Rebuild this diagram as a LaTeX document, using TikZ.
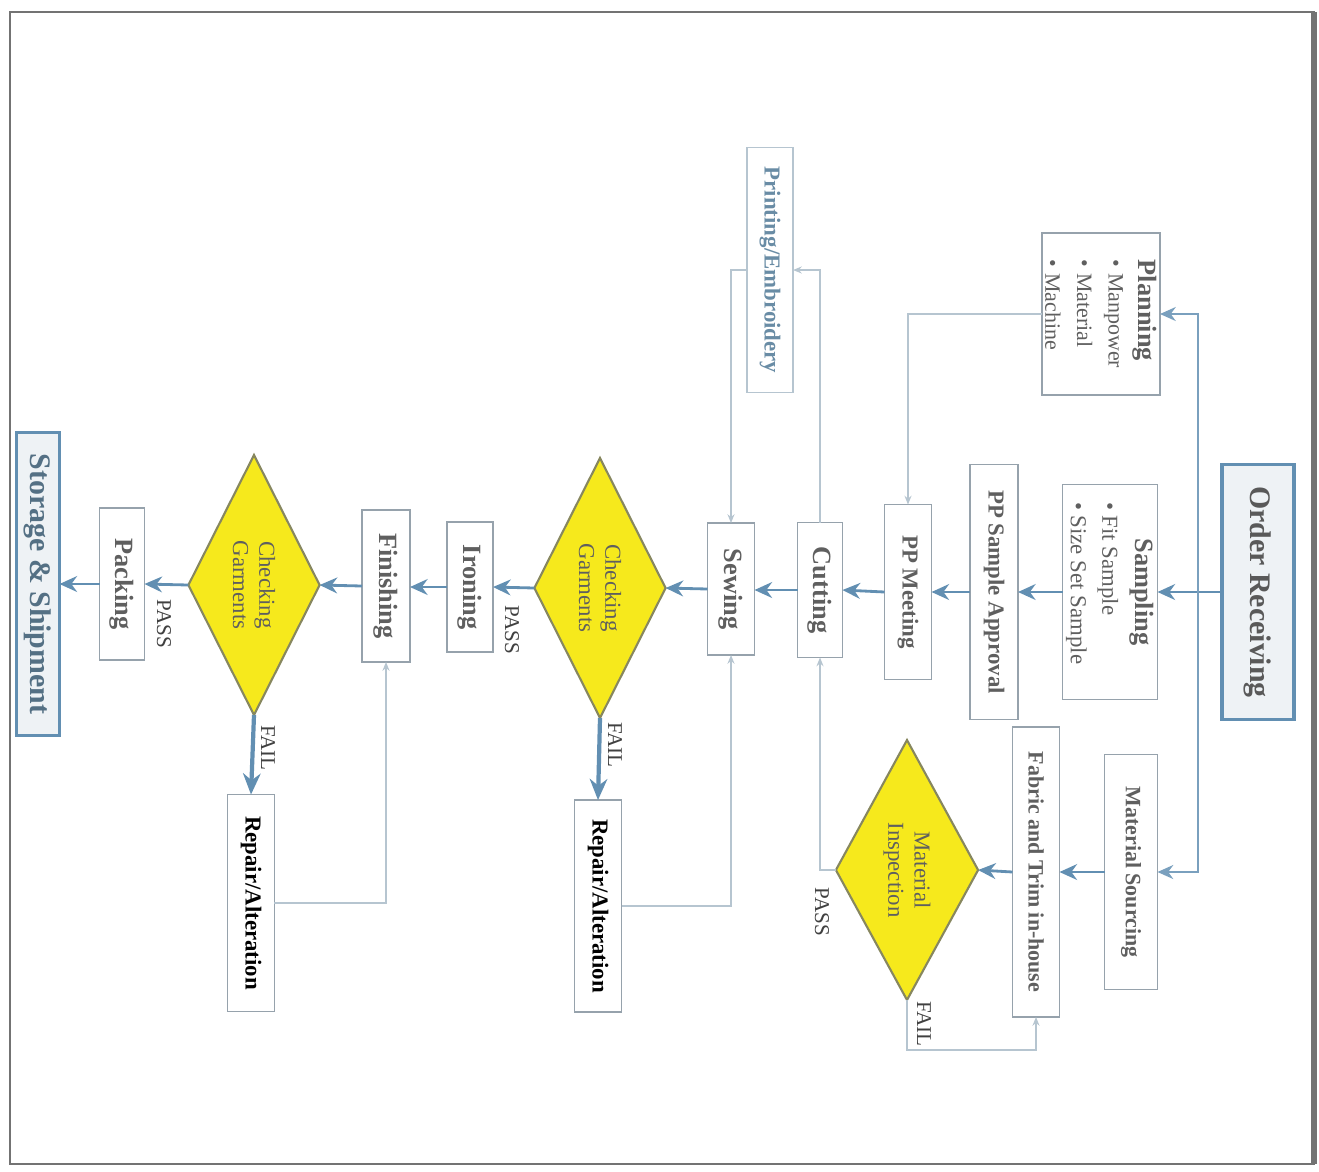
\documentclass[tikz,border=0pt]{standalone}
\usepackage{fontspec}
\setmainfont{Liberation Serif}
\usetikzlibrary{arrows.meta,shapes.geometric,calc}
\definecolor{arrblue}{RGB}{98,143,178}
\definecolor{fbcol}{RGB}{182,197,208}
\definecolor{boxln}{RGB}{150,162,172}
\definecolor{txtgray}{RGB}{95,95,95}
\definecolor{dyellow}{RGB}{246,233,28}
\definecolor{dline}{RGB}{135,135,95}
\definecolor{pebl}{RGB}{105,140,165}
\definecolor{bigfill}{RGB}{238,242,245}
\begin{document}
\begin{tikzpicture}[x=0.02cm,y=-0.02cm,
  box/.style={draw=boxln, line width=0.8pt, fill=white, rotate=-90, inner sep=0pt, outer sep=0pt,
    font=\bfseries\fontsize{15}{18}\selectfont, text=txtgray, align=center},
  sbox/.style={box, font=\bfseries\fontsize{13}{15}\selectfont},
  bigbox/.style={box, draw=arrblue, line width=2pt, fill=bigfill, font=\bfseries\fontsize{17}{20}\selectfont, text=black!65},
  dia/.style={diamond, draw=dline, line width=1.2pt, fill=dyellow, rotate=-90, inner sep=0pt, outer sep=0pt,
    font=\fontsize{13}{15}\selectfont, text=txtgray, align=center},
  lbl/.style={rotate=-90, inner sep=1pt, font=\fontsize{12}{14}\selectfont, text=black!75},
  flow/.style={draw=arrblue, line width=1.6pt, -{Stealth[length=10pt,width=9pt]}},
  failflow/.style={draw=arrblue, line width=2.4pt, -{Stealth[length=12pt,width=10pt]}},
  fbline/.style={draw=fbcol, line width=0.8pt},
  fbarrow/.style={fbline, -{Stealth[length=5pt,width=4pt]}},
  branchline/.style={draw=arrblue!85, line width=1.1pt, -{Stealth[length=9pt,width=8pt]}},
  bul/.style={}
]
\useasboundingbox (0,0) rectangle (1319,1171);
% frame
\draw[black!55, line width=1.4pt] (10,12) rectangle (1314,1164);
\draw[black!55, line width=3pt] (1314,12) -- (1314,1164);

% nodes
\node[bigbox, minimum width=5.10cm, minimum height=1.44cm] (OR) at (1258,592) {Order Receiving};
\node[box, minimum width=3.24cm, minimum height=2.36cm, align=left] (PL) at (1101,314)
  {Planning\\[-1pt]{\mdseries\fontsize{12.5}{14}\selectfont • Manpower}\\{\mdseries\fontsize{12.5}{14}\selectfont • Material}\\{\mdseries\fontsize{12.5}{14}\selectfont • Machine}};
\node[box, minimum width=4.30cm, minimum height=1.90cm] (SA) at (1110,592)
  {Sampling\\[1pt]{\mdseries\fontsize{13}{14.5}\selectfont\makebox[3.6cm][l]{• Fit Sample}}\\{\mdseries\fontsize{13}{14.5}\selectfont\makebox[3.6cm][l]{• Size Set Sample}}};
\node[sbox, font=\bfseries\fontsize{12.5}{15}\selectfont, minimum width=4.70cm, minimum height=1.06cm] (MS) at (1131,872) {Material Sourcing};
\node[sbox, minimum width=5.10cm, minimum height=0.96cm] (PPA) at (994,592) {PP Sample Approval};
\node[sbox, font=\bfseries\fontsize{12.5}{15}\selectfont, minimum width=5.80cm, minimum height=0.94cm] (FT) at (1036,872) {Fabric and Trim in-house};
\node[dia, minimum width=5.20cm, minimum height=2.54cm] (MI) at (907,870) {Material\\Inspection};
\node[sbox, minimum width=3.50cm, minimum height=0.94cm] (PPM) at (908,592) {PP Meeting};
\node[sbox, text=pebl, draw=fbcol, minimum width=4.90cm, minimum height=0.92cm] (PE) at (770,270) {Printing/Embroidery};
\node[box, minimum width=2.70cm, minimum height=0.90cm] (CU) at (820,590) {Cutting};
\node[box, minimum width=2.64cm, minimum height=0.94cm] (SE) at (731,589) {Sewing};
\node[dia, minimum width=5.20cm, minimum height=2.60cm] (CG1) at (600,588) {Checking\\Garments};
\node[sbox, text=black, minimum width=4.24cm, minimum height=0.94cm] (RA1) at (598,906) {Repair/Alteration};
\node[box, minimum width=2.60cm, minimum height=0.92cm] (IR) at (470,587) {Ironing};
\node[box, minimum width=3.04cm, minimum height=0.96cm] (FI) at (386,586) {Finishing};
\node[dia, minimum width=5.20cm, minimum height=2.56cm] (CG2) at (254,585) {Checking\\Garments};
\node[sbox, text=black, minimum width=4.34cm, minimum height=0.94cm] (RA2) at (251,903) {Repair/Alteration};
\node[box, minimum width=3.04cm, minimum height=0.90cm] (PA) at (122,584) {Packing};
\node[bigbox, text=pebl!80!black, minimum width=6.06cm, minimum height=0.86cm] (SS) at (38,584) {Storage \& Shipment};

% main flow
\draw[flow] (OR.south) -- (OR.south -| SA.north);
\draw[flow] (SA.south) -- (SA.south -| PPA.north);
\draw[flow] (PPA.south) -- (PPA.south -| PPM.north);
\draw[flow] (PPM.south) -- (CU.north);
\draw[flow] (CU.south) -- (CU.south -| SE.north);
\draw[flow] (SE.south) -- (CG1.north);
\draw[flow] (CG1.south) -- (IR.north);
\draw[flow] (IR.south) -- (IR.south -| FI.north);
\draw[flow] (FI.south) -- (CG2.north);
\draw[flow] (CG2.south) -- (PA.north);
\draw[flow] (PA.south) -- (PA.south -| SS.north);

% branches from order receiving
\coordinate (b1) at (1198,314);
\coordinate (b2) at (1198,872);
\draw[branchline] (b1 |- OR.south) -- (b1) -- (PL.north);
\draw[branchline] (b1 |- OR.south) -- (b2) -- (MS.north);

% material branch
\draw[flow] (MS.south) -- (FT.north);
\draw[flow] (FT.south) -- (MI.north);
\draw[fbarrow] (MI.south) -| (CU.east);
\coordinate (f1) at (1036,1050);
\draw[fbarrow] (MI.east) |- (f1) -- (FT.east);
\node[lbl] (lp0) at (822,912) {PASS};
\node[lbl] (lf0) at (924,1024) {FAIL};

% planning to pp meeting
\draw[fbarrow] (PL.south) -| (PPM.west);

% cutting - printing - sewing
\draw[fbarrow] (CU.west) |- (PE.north);
\draw[fbarrow] (PE.south) -| (SE.west);

% checks
\draw[failflow] (CG1.east) -- (RA1.west);
\draw[fbarrow] (RA1.north) -| (SE.east);
\draw[failflow] (CG2.east) -- (RA2.west);
\draw[fbarrow] (RA2.north) -| (FI.east);

\node[lbl] (lp1) at (512,630) {PASS};
\node[lbl] (lf1) at (615,745) {FAIL};
\node[lbl] (lp2) at (164,624) {PASS};
\node[lbl] (lf2) at (268,748) {FAIL};
\end{tikzpicture}
\end{document}
